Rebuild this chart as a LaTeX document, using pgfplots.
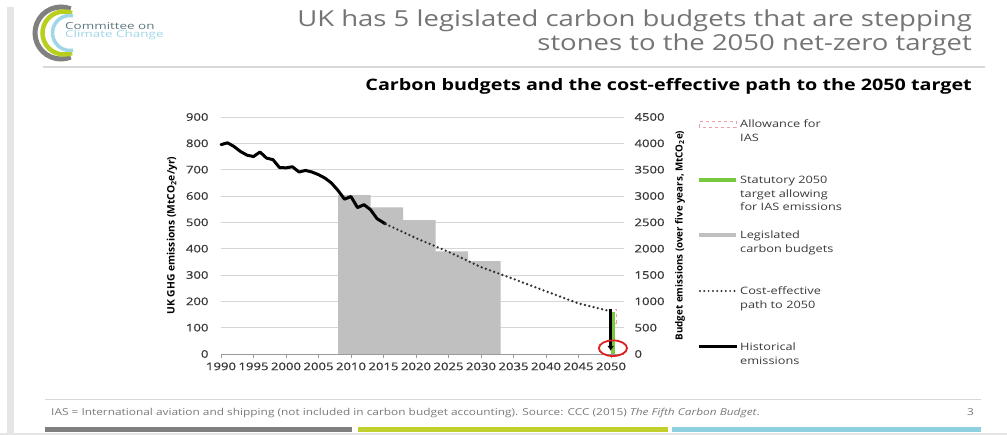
\documentclass[border=0pt]{standalone}
\usepackage{fontspec}
\setmainfont{Open Sans}[FakeStretch=1.25]
\newfontfamily\tickfont{Open Sans}[FakeStretch=1.25, FakeBold=0.7]
\newfontfamily\logofont{Open Sans}[FakeStretch=1.4]
\newfontfamily\plainfont{Open Sans}
\usepackage{pgfplots}
\pgfplotsset{compat=1.18}
\usetikzlibrary{arrows.meta}
\definecolor{bargray}{HTML}{C0C0C0}
\definecolor{gridgray}{HTML}{D6D6D6}
\definecolor{axisgray}{HTML}{9A9A9A}
\definecolor{tickgray}{HTML}{383838}
\definecolor{dotgray}{HTML}{333333}
\definecolor{targetgreen}{HTML}{78C841}
\definecolor{iaspink}{HTML}{E8A0A8}
\definecolor{circred}{HTML}{E02020}
\definecolor{titlegray}{HTML}{747474}
\definecolor{rulegray}{HTML}{D8D8D8}
\definecolor{logogray}{HTML}{808080}
\definecolor{logogreen}{HTML}{B8CF1E}
\definecolor{logoblue}{HTML}{9FD6E8}
\definecolor{logotext}{HTML}{5F7880}
\definecolor{footgray}{HTML}{7A7A7A}
\definecolor{footg}{HTML}{7F7F7F}
\definecolor{footgreen}{HTML}{C2D02E}
\definecolor{footblue}{HTML}{8FCFE2}
\definecolor{legtext}{HTML}{3A3A3A}
\begin{document}
\begin{tikzpicture}[x=1pt,y=1pt]
\useasboundingbox (0,0) rectangle (1007,435);
\fill[white] (0,0) rectangle (1007,435);
\fill[gray!20] (7,0) rectangle (14,428);
\fill[gray!20] (0,0) rectangle (1007,2);
% logo
\draw[logogray, line width=5pt] (61,402) ++(68:26) arc[start angle=68, end angle=292, radius=26];
\draw[logogreen, line width=4.5pt] (64,402) ++(68:21.5) arc[start angle=68, end angle=292, radius=21.5];
\draw[logoblue, line width=3.5pt] (70,402) ++(80:17.5) arc[start angle=80, end angle=280, radius=17.5];
\node[anchor=north west, inner sep=0, align=left, font=\logofont\fontsize{9.6}{7.6}\selectfont] at (65,412.5) {\textcolor{logotext}{Committee on}\\\textcolor{logoblue}{Climate Change}};
% titles
\node[anchor=base east, inner sep=0, text=titlegray, font=\fontsize{22}{25}\selectfont] at (972,408) {UK has 5 legislated carbon budgets that are stepping};
\node[anchor=base east, inner sep=0, text=titlegray, font=\fontsize{22}{25}\selectfont] at (972,384) {stones to the 2050 net-zero target};
\draw[rulegray, line width=1.2pt] (43,368) -- (985,368);
\node[anchor=base east, inner sep=0, font=\bfseries\fontsize{15.8}{18}\selectfont] at (972,344.5) {Carbon budgets and the cost-effective path to the 2050 target};
% footer
\draw[rulegray, line width=1pt] (45,35) -- (981,35);
\node[anchor=base west, inner sep=0, text=footgray, font=\fontsize{9.5}{11}\selectfont] at (51,19) {IAS = International aviation and shipping (not included in carbon budget accounting). Source: CCC (2015) \textit{The Fifth Carbon Budget}.};
\node[anchor=base east, inner sep=0, text=footgray, font=\fontsize{9.5}{11}\selectfont] at (974,19) {3};
\fill[footg] (45,3) rectangle (352,8);
\fill[footgreen] (358,3) rectangle (668,8);
\fill[footblue] (672,3) rectangle (981,8);

% right-scale axis: budgets
\begin{axis}[at={(221pt,81pt)}, anchor=south west, scale only axis,
  width=403pt, height=237pt,
  xmin=1990, xmax=2052, ymin=0, ymax=4500,
  axis x line=none, axis y line*=right, y axis line style={draw=none},
  ytick={0,500,...,4500}, major tick length=0pt,
  ymajorgrids, grid style={gridgray, line width=0.8pt},
  yticklabel style={font=\tickfont\fontsize{10.5}{12}\selectfont, text=tickgray, anchor=west, xshift=7pt},
  /pgf/number format/assume math mode=true, /pgf/number format/1000 sep={},
  ylabel={Budget emissions (over five years, MtCO\textsubscript{2}e)},
  ylabel style={at={(axis description cs:1.139,0.5)}, anchor=center, rotate=0, font=\plainfont\bfseries\fontsize{9.8}{11}\selectfont, text=black},
  clip=false]
\addplot[const plot, fill=bargray, draw=none] coordinates {(2008,3018) (2013,2782) (2018,2544) (2023,1950) (2028,1765) (2033,1765)} \closedcycle;
\end{axis}

% left-scale axis: emissions
\begin{axis}[at={(221pt,81pt)}, anchor=south west, scale only axis,
  width=403pt, height=237pt,
  xmin=1990, xmax=2052, ymin=0, ymax=900,
  axis x line*=bottom, axis y line*=left,
  y axis line style={draw=none}, x axis line style={draw=axisgray, line width=0.8pt, -},
  xtick={1990,1995,...,2050}, ytick={0,100,...,900},
  tick align=outside, major tick length=4pt,
  xtick style={draw=axisgray, line width=0.8pt}, ytick style={draw=none},
  xticklabel style={font=\tickfont\fontsize{10.5}{12}\selectfont, text=tickgray, yshift=-1pt},
  yticklabel style={font=\tickfont\fontsize{10.5}{12}\selectfont, text=tickgray, anchor=east, xshift=-5pt},
  /pgf/number format/assume math mode=true, /pgf/number format/1000 sep={},
  ylabel={UK GHG emissions (MtCO\textsubscript{2}e/yr)},
  ylabel style={at={(axis description cs:-0.1216,0.5)}, anchor=center, font=\plainfont\bfseries\fontsize{10.3}{11}\selectfont, text=black},
  clip=false]
\addplot[black, line width=3pt, line join=round, line cap=round] coordinates {
(1990,795) (1991,802) (1992,788) (1993,769) (1994,755) (1995,750) (1996,767)
(1997,744) (1998,738) (1999,708) (2000,707) (2001,711) (2002,691) (2003,697)
(2004,691) (2005,681) (2006,668) (2007,649) (2008,621) (2009,588) (2010,598)
(2011,556) (2012,567) (2013,548) (2014,514) (2015.3,494)};
\addplot[dotgray, line width=2.6pt, line cap=round, dash pattern=on 0pt off 4.4pt] coordinates {
(2015.3,494) (2020,440) (2025,388) (2030,330) (2035,285) (2040,238) (2045,192) (2050,162)};
\addplot[targetgreen, line width=4pt] coordinates {(2050.25,0) (2050.25,160)};
\addplot[iaspink, dashed, line width=0.6pt] coordinates {(2049.75,118) (2050.75,118) (2050.75,171) (2049.75,171) (2049.75,118)};
\addplot[black, line width=2.8pt, -{Latex[length=5pt,width=7pt]}] coordinates {(2049.95,172) (2049.95,12)};
\addplot[only marks, mark=o, circred, mark size=7.8pt, mark options={xscale=1.8, line width=1.8pt}] coordinates {(2050.3,22)};
\end{axis}

% legend
\begin{scope}[every node/.style={anchor=base west, inner sep=0, text=legtext, font=\fontsize{10.2}{12}\selectfont}]
\draw[iaspink, dashed, line width=0.7pt] (699,308) rectangle (736,313.5);
\node at (740,307) {Allowance for};
\node at (740,293.5) {IAS};
\draw[targetgreen, line width=4pt] (699,255) -- (736,255);
\node at (740,251) {Statutory 2050};
\node at (740,237.5) {target allowing};
\node at (740,224) {for IAS emissions};
\draw[bargray, line width=4pt] (699,200) -- (736,200);
\node at (740,196) {Legislated};
\node at (740,182.5) {carbon budgets};
\draw[dotgray, line width=2.2pt, line cap=round, dash pattern=on 0pt off 4.3pt] (700,144) -- (736,144);
\node at (740,140) {Cost-effective};
\node at (740,126.5) {path to 2050};
\draw[black, line width=3pt] (699,88) -- (737,88);
\node at (740,84) {Historical};
\node at (740,70.5) {emissions};
\end{scope}
\end{tikzpicture}
\end{document}
